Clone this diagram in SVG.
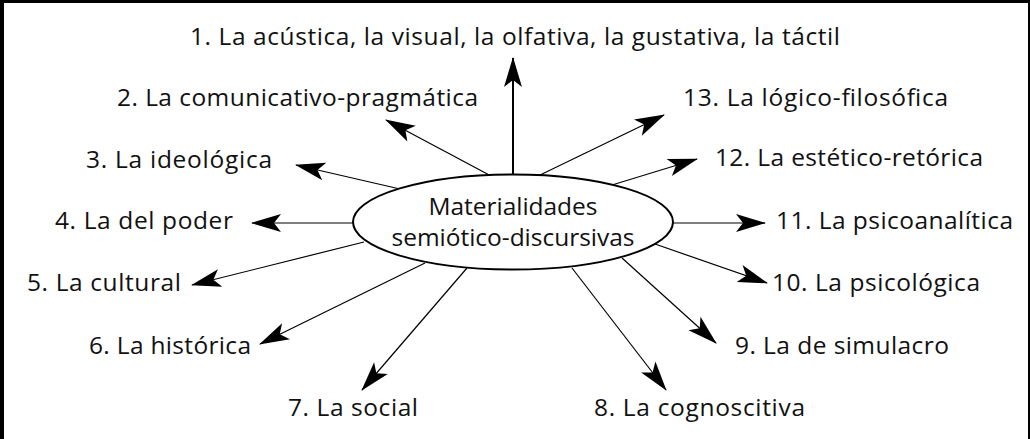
<svg xmlns="http://www.w3.org/2000/svg" width="1030" height="439" viewBox="0 0 1030 439">
  <style>
    .lbl { font-family: "Open Sans", "Noto Sans", "Liberation Sans", sans-serif; font-size: 24.5px; fill: #111; text-anchor: middle; }
    .conn line { stroke: #000; stroke-width: 1.2; marker-end: url(#ah); }
  </style>
  <defs>
    <marker id="ah" markerUnits="userSpaceOnUse" orient="auto" markerWidth="34" markerHeight="22" refX="30" refY="10" viewBox="0 0 34 22">
      <path d="M31,10 L1,1 L8,10 L1,19 Z" fill="#000"/>
    </marker>
  </defs>
  <rect width="1030" height="439" fill="#fff"/>
  <g id="frame" fill="#000">
    <rect x="0" y="0" width="4" height="439"/>
    <rect x="0" y="0" width="1030" height="3"/>
    <rect x="1028" y="0" width="2" height="439"/>
  </g>
  <g id="connectors" class="conn">
    <line x1="513" y1="175" x2="513" y2="58" style="stroke-width:2"/>
    <line x1="493" y1="177" x2="386" y2="120"/>
    <line x1="400" y1="189" x2="296" y2="165"/>
    <line x1="353" y1="223" x2="252" y2="223"/>
    <line x1="364" y1="242" x2="192" y2="285"/>
    <line x1="425" y1="263" x2="260" y2="344"/>
    <line x1="467" y1="268" x2="362" y2="390"/>
    <line x1="572" y1="268" x2="666" y2="390"/>
    <line x1="622" y1="258" x2="716" y2="343"/>
    <line x1="655" y1="244" x2="767" y2="283"/>
    <line x1="673" y1="223" x2="765" y2="223"/>
    <line x1="612" y1="185" x2="697" y2="159"/>
    <line x1="538" y1="176" x2="664" y2="115"/>
  </g>
  <g id="center">
    <ellipse cx="513" cy="222" rx="160" ry="47.5" fill="#fff" stroke="#000" stroke-width="2"/>
    <text class="lbl" x="513" y="215" textLength="169" lengthAdjust="spacing">Materialidades</text>
    <text class="lbl" x="513" y="246" textLength="243" lengthAdjust="spacing">semiótico-discursivas</text>
  </g>
  <g id="n1"><text class="lbl" x="515" y="45" textLength="650" lengthAdjust="spacing">1. La acústica, la visual, la olfativa, la gustativa, la táctil</text></g>
  <g id="n2"><text class="lbl" x="297.5" y="106" textLength="361" lengthAdjust="spacing">2. La comunicativo-pragmática</text></g>
  <g id="n3"><text class="lbl" x="179" y="168" textLength="186" lengthAdjust="spacing">3. La ideológica</text></g>
  <g id="n4"><text class="lbl" x="144" y="229" textLength="178" lengthAdjust="spacing">4. La del poder</text></g>
  <g id="n5"><text class="lbl" x="104" y="291" textLength="154" lengthAdjust="spacing">5. La cultural</text></g>
  <g id="n6"><text class="lbl" x="170" y="354" textLength="162" lengthAdjust="spacing">6. La histórica</text></g>
  <g id="n7"><text class="lbl" x="353" y="416" textLength="130" lengthAdjust="spacing">7. La social</text></g>
  <g id="n8"><text class="lbl" x="699.5" y="416" textLength="211" lengthAdjust="spacing">8. La cognoscitiva</text></g>
  <g id="n9"><text class="lbl" x="842" y="354" textLength="214" lengthAdjust="spacing">9. La de simulacro</text></g>
  <g id="n10"><text class="lbl" x="876" y="291" textLength="208" lengthAdjust="spacing">10. La psicológica</text></g>
  <g id="n11"><text class="lbl" x="894.5" y="229" textLength="237" lengthAdjust="spacing">11. La psicoanalítica</text></g>
  <g id="n12"><text class="lbl" x="849" y="166" textLength="268" lengthAdjust="spacing">12. La estético-retórica</text></g>
  <g id="n13"><text class="lbl" x="815.5" y="106" textLength="265" lengthAdjust="spacing">13. La lógico-filosófica</text></g>
</svg>
